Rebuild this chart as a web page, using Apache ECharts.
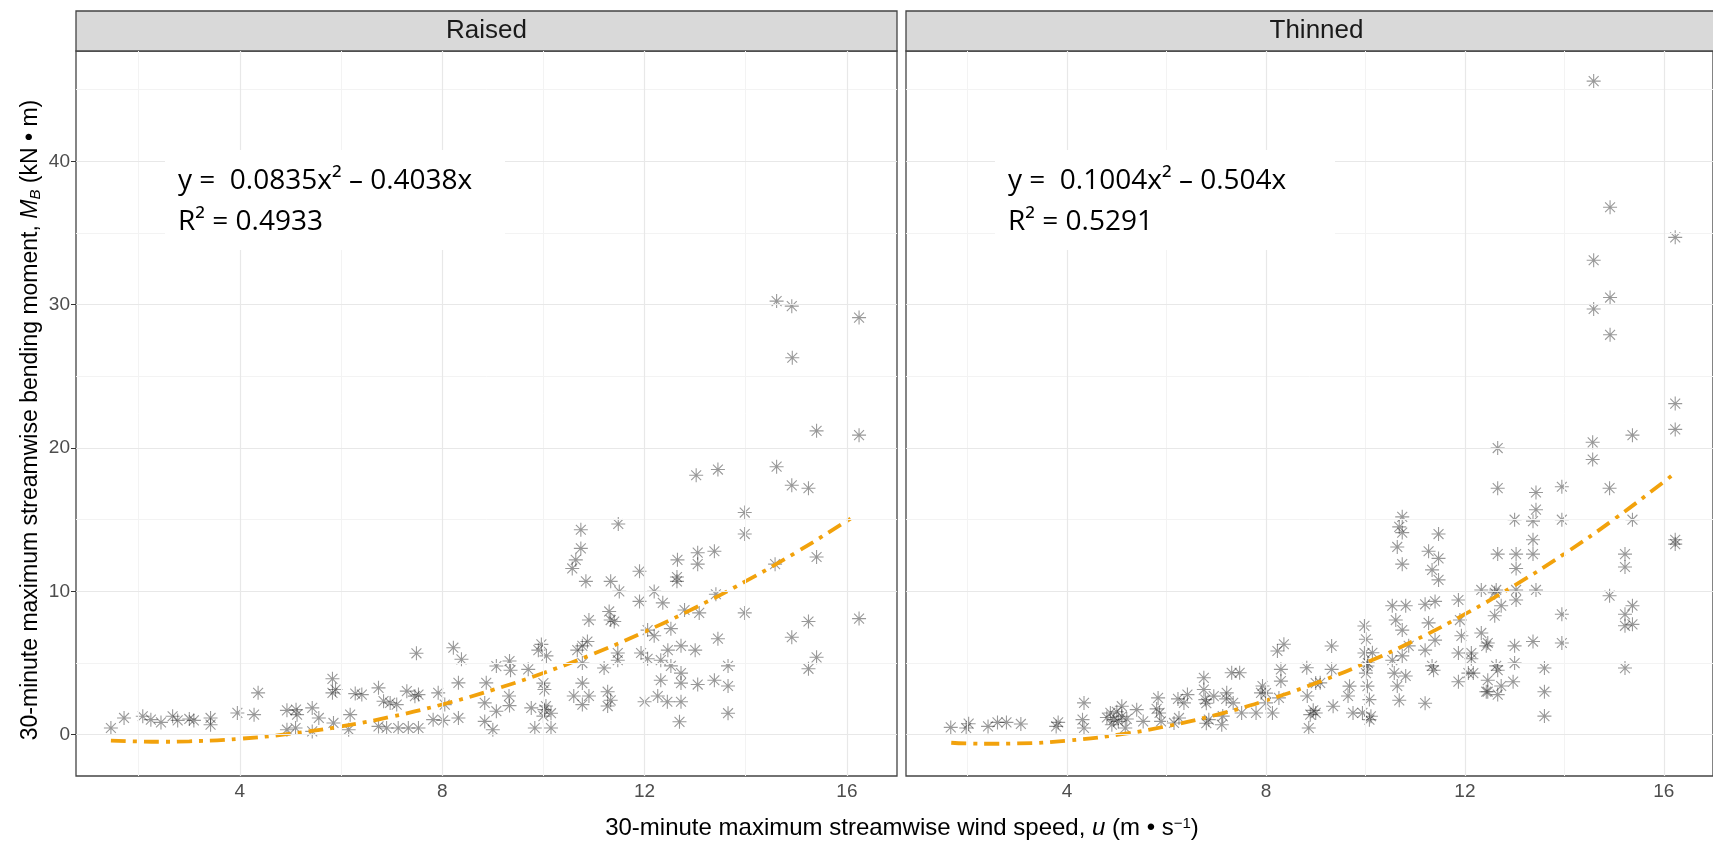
<!DOCTYPE html>
<html>
<head>
<meta charset="utf-8">
<title>Bending moment vs wind speed</title>
<script src="https://cdn.jsdelivr.net/npm/echarts@6/dist/echarts.min.js"></script>
<style>
  html, body { margin: 0; padding: 0; background: #fff; }
  #chart { width: 1713px; height: 841px; }
</style>
</head>
<body>
<div id="chart"></div>
<script>
// points: [wind speed u, bending moment MB]
const raisedPoints = [
  [1.45,0.47],[1.71,1.17],[2.08,1.29],[2.24,1.05],[2.44,0.86],[2.67,1.29],[2.77,1.0],[3.0,1.1],
  [3.09,1.0],[3.42,1.17],[3.42,0.7],[3.95,1.52],[4.28,1.4],[4.36,2.92],[4.93,1.7],[5.11,1.75],
  [5.13,1.4],[5.43,1.87],[5.56,1.17],[4.93,0.35],[5.1,0.47],[5.43,0.23],[5.83,3.9],[5.83,2.92],
  [5.89,3.15],[5.85,0.82],[6.18,1.4],[6.15,0.35],[6.28,2.87],[6.41,2.8],[6.74,3.27],[6.84,2.34],
  [6.74,0.58],[6.9,0.47],[6.97,2.22],[7.1,2.1],[7.13,0.47],[7.3,3.04],[7.46,2.69],[7.53,2.8],
  [7.49,5.68],[7.33,0.47],[7.53,0.47],[7.92,2.92],[7.82,1.05],[8.02,1.0],[8.22,6.07],[8.38,5.26],
  [8.32,3.62],[8.32,1.17],[8.05,2.1],[8.87,3.62],[8.84,2.22],[9.07,4.79],[9.33,5.14],[9.33,2.03],
  [9.07,1.64],[9.0,0.35],[8.84,0.93],[9.7,4.56],[9.96,6.3],[10.06,5.5],[10.02,3.15],[9.76,1.87],
  [10.02,1.75],[9.83,0.47],[10.15,0.47],[13.02,18.1],[13.45,18.5],[10.74,14.3],[11.48,14.7],[10.74,13.0],
  [10.64,12.2],[10.57,11.6],[10.84,10.7],[11.33,10.7],[11.5,10.0],[11.9,11.4],[11.9,9.3],[12.19,10.0],
  [12.36,9.2],[12.65,12.2],[12.64,11.0],[12.64,10.7],[13.05,12.7],[13.05,11.9],[13.38,12.8],[13.41,9.8],
  [13.08,8.5],[12.79,8.7],[10.9,8.0],[11.3,8.6],[11.33,8.0],[11.4,7.9],[12.06,7.3],[12.19,6.9],
  [12.52,7.4],[13.45,6.7],[12.72,6.2],[13.0,5.9],[12.46,5.9],[11.93,5.7],[12.06,5.3],[12.32,5.2],
  [12.52,4.8],[12.72,4.3],[12.32,3.8],[12.72,3.6],[13.05,3.5],[13.38,3.8],[12.0,2.3],[12.26,2.7],
  [12.45,2.3],[12.72,2.3],[12.69,0.9],[11.2,4.65],[11.47,5.2],[11.47,5.7],[10.77,6.2],[10.67,5.9],
  [10.77,5.0],[10.87,6.5],[10.77,3.6],[10.9,2.7],[10.6,2.7],[10.77,2.1],[11.27,3.0],[11.33,2.4],
  [11.27,2.0],[9.9,5.9],[9.35,4.5],[10.0,3.6],[9.32,2.7],[10.05,2.0],[10.15,1.5],[10.0,1.3],
  [14.61,30.25],[14.91,29.9],[16.24,29.1],[14.92,26.3],[15.4,21.2],[16.24,20.9],[14.61,18.7],[14.91,17.4],
  [15.24,17.2],[13.98,15.5],[13.98,14.0],[15.4,12.4],[14.58,11.9],[13.98,8.5],[15.24,7.9],[14.91,6.8],
  [16.24,8.1],[15.4,5.4],[15.24,4.6],[13.65,4.8],[13.65,3.4],[13.65,1.5]
];

const thinnedPoints = [
  [1.66,0.51],[1.97,0.47],[2.02,0.77],[2.41,0.58],[2.6,0.86],[2.78,0.86],[3.07,0.75],[3.78,0.58],
  [3.82,0.86],[4.34,2.22],[4.31,1.05],[4.34,0.47],[4.87,1.52],[4.94,1.05],[4.9,0.7],[5.1,1.99],
  [5.1,1.29],[5.17,0.47],[5.03,0.93],[5.4,1.75],[5.53,0.93],[5.83,2.57],[5.86,1.52],[5.89,0.93],
  [6.15,0.82],[6.25,1.17],[6.42,2.8],[6.35,2.22],[6.75,3.97],[6.75,3.15],[6.78,2.45],[6.85,1.05],
  [6.95,2.69],[7.11,0.7],[7.21,2.92],[7.31,4.32],[7.47,4.32],[7.34,2.22],[7.51,1.52],[7.8,1.52],
  [7.9,2.92],[8.0,2.22],[8.13,1.52],[8.23,5.84],[8.36,6.31],[8.3,4.56],[8.3,3.74],[8.26,2.57],
  [8.82,4.67],[8.89,1.4],[8.86,0.47],[9.0,1.52],[9.09,3.62],[9.32,6.19],[9.32,4.56],[9.35,1.99],
  [9.68,3.39],[9.75,1.52],[9.98,7.59],[10.01,6.66],[10.04,4.79],[10.04,3.39],[10.08,2.45],[10.11,1.29],
  [9.94,1.52],[10.14,5.72],[5.8,1.8],[6.23,2.5],[6.8,2.2],[7.13,1.3],[6.8,0.8],[7.2,2.5],
  [8.0,2.9],[7.93,3.4],[8.83,2.7],[4.8,1.2],[5.0,1.6],[5.2,1.1],[9.0,3.6],[9.98,5.7],
  [10.05,5.0],[10.01,4.3],[10.08,1.05],[9.65,2.7],[8.95,1.7],[12.66,20.0],[12.66,17.2],[12.66,12.6],
  [10.74,15.2],[10.68,14.5],[10.74,14.1],[10.64,13.1],[10.74,11.9],[11.47,14.0],[11.27,12.8],[11.47,12.3],
  [11.34,11.5],[11.47,10.8],[10.54,9.0],[10.81,9.0],[10.61,8.0],[10.74,7.3],[10.87,6.2],[10.54,5.2],
  [10.74,5.5],[10.58,4.3],[10.81,4.1],[10.64,3.4],[10.68,2.4],[11.2,2.2],[11.2,9.1],[11.4,9.3],
  [11.27,7.8],[11.4,6.6],[11.2,5.9],[11.34,4.8],[11.37,4.5],[11.87,9.4],[11.9,8.0],[12.33,10.1],
  [11.93,6.9],[11.87,5.7],[12.13,5.7],[12.33,7.1],[12.46,6.4],[12.6,8.3],[12.73,9.0],[12.07,4.3],
  [11.87,3.7],[12.46,3.8],[12.66,4.5],[12.46,3.0],[12.66,2.8],[12.73,3.4],[12.6,9.9],[16.23,23.1],
  [16.23,21.3],[15.37,20.9],[14.57,20.4],[14.57,19.2],[13.43,16.9],[13.95,17.3],[14.91,17.2],[13.43,15.7],
  [13.0,15.0],[13.37,14.9],[13.95,15.0],[15.37,15.0],[13.37,13.6],[16.23,13.6],[16.23,13.3],[13.03,12.6],
  [13.37,12.6],[13.03,11.6],[15.22,12.6],[15.22,11.7],[12.63,10.1],[13.03,10.1],[13.43,10.1],[13.03,9.4],
  [14.91,9.7],[13.95,8.4],[15.37,9.0],[15.22,8.4],[15.22,7.6],[15.37,7.7],[13.37,6.5],[13.95,6.4],
  [13.0,6.2],[13.0,5.0],[13.6,4.65],[13.6,3.0],[13.6,1.3],[15.22,4.65],[12.43,6.2],[12.63,4.8],
  [12.43,3.0],[12.17,4.3],[12.13,5.3],[12.97,3.7],[14.59,45.6],[14.92,36.8],[14.59,33.1],[14.92,30.5],
  [14.59,29.7],[14.92,27.9],[16.23,34.7]
];

// fitted curves, points
const raisedFitX = [1.45, 2, 2.5, 3, 4, 5, 6, 7, 8, 9, 10, 11, 12, 13, 14, 15, 16, 16.13];
const raisedFitY = [-0.41, -0.47, -0.49, -0.46, -0.28, 0.07, 0.58, 1.26, 2.11, 3.13, 4.31, 5.66, 7.18, 8.86, 10.71, 12.73, 14.92, 15.2];
const thinnedFitX = [1.67, 2, 2.5, 3, 4, 5, 6, 7, 8, 9, 10, 11, 12, 13, 14, 15, 16, 16.2];
const thinnedFitY = [-0.56, -0.61, -0.63, -0.61, -0.41, -0.01, 0.59, 1.39, 2.39, 3.60, 5.00, 6.60, 8.41, 10.42, 12.62, 15.03, 17.64, 18.19];

const panelNames = ['Raised', 'Thinned'];
const fitLabels = [
  'y =  0.0835x\u00b2 \u2013 0.4038x\nR\u00b2 = 0.4933',
  'y =  0.1004x\u00b2 \u2013 0.504x\nR\u00b2 = 0.5291'
];
const xMajor = [4, 8, 12, 16];
const xMinor = [2, 6, 10, 14];
const yMajor = [0, 10, 20, 30, 40];
const yMinor = [5, 15, 25, 35, 45];

const myChart = echarts.init(document.getElementById('chart'));

const panelLeft = [76, 906];
const panelTop = 51;
const panelW = 821;
const panelH = 725;
const star = 'path://M5,0L5,10M0,5L10,5M1.46,1.46L8.54,8.54M1.46,8.54L8.54,1.46';

const grids = [], xAxes = [], yAxes = [], series = [], graphics = [];
const points = [raisedPoints, thinnedPoints];
const fits = [
  raisedFitX.map((x, i) => [x, raisedFitY[i]]),
  thinnedFitX.map((x, i) => [x, thinnedFitY[i]])
];

for (let i = 0; i < 2; i++) {
  grids.push({
    left: panelLeft[i], top: panelTop, width: panelW, height: panelH,
    show: true, backgroundColor: '#fff', borderColor: '#444', borderWidth: 1.3
  });
  xAxes.push({
    gridIndex: i, type: 'value', min: 0.76, max: 16.99,
    axisLine: { show: false },
    axisTick: { show: true, customValues: xMajor, length: 5, lineStyle: { color: '#333' } },
    axisLabel: { show: true, customValues: xMajor, color: '#4d4d4d', fontSize: 19, margin: 6, fontFamily: 'Liberation Sans' },
    splitLine: { show: false }
  });
  yAxes.push({
    gridIndex: i, type: 'value', min: -2.88, max: 47.7,
    axisLine: { show: false },
    axisTick: { show: i === 0, customValues: yMajor, length: 5, lineStyle: { color: '#333' } },
    axisLabel: { show: i === 0, customValues: yMajor, color: '#4d4d4d', fontSize: 19, margin: 6, fontFamily: 'Liberation Sans' },
    splitLine: { show: false }
  });

  // background grid lines
  const minorStyle = { color: '#f3f3f3', width: 1, type: 'solid' };
  const majorStyle = { color: '#e8e8e8', width: 1.2, type: 'solid' };
  series.push({
    type: 'line', xAxisIndex: i, yAxisIndex: i, data: [], z: 1, silent: true,
    markLine: {
      silent: true, symbol: ['none', 'none'], label: { show: false }, animation: false,
      data: [].concat(
        xMinor.map(v => ({ xAxis: v, lineStyle: minorStyle })),
        yMinor.map(v => ({ yAxis: v, lineStyle: minorStyle })),
        xMajor.map(v => ({ xAxis: v, lineStyle: majorStyle })),
        yMajor.map(v => ({ yAxis: v, lineStyle: majorStyle }))
      )
    }
  });

  series.push({
    type: 'scatter', xAxisIndex: i, yAxisIndex: i, z: 2,
    data: points[i],
    symbol: star, symbolSize: 14,
    itemStyle: { color: 'transparent', borderColor: 'rgba(0,0,0,0.5)', borderWidth: 1.1 },
    animation: false
  });

  series.push({
    type: 'line', xAxisIndex: i, yAxisIndex: i, z: 4,
    data: fits[i], showSymbol: false, smooth: true,
    lineStyle: { color: '#f2a20c', width: 3.8, type: [15, 7, 4, 7] },
    animation: false
  });

  // facet strip
  graphics.push({
    type: 'rect', z: 5,
    shape: { x: panelLeft[i], y: 11, width: panelW, height: panelTop - 11 },
    style: { fill: '#d9d9d9', stroke: '#444', lineWidth: 1.3 }
  });
  graphics.push({
    type: 'text', z: 6,
    x: panelLeft[i] + panelW / 2, y: 31,
    style: { text: panelNames[i], fill: '#1a1a1a', fontSize: 26, fontFamily: 'Liberation Sans', align: 'center', verticalAlign: 'middle' }
  });

  // equation box
  graphics.push({
    type: 'rect', z: 8,
    shape: { x: panelLeft[i] + 89, y: 150, width: 340, height: 100 },
    style: { fill: '#fff' }
  });
  graphics.push({
    type: 'text', z: 9,
    x: panelLeft[i] + 102, y: 161,
    style: { text: fitLabels[i], fill: '#000', fontSize: 28, fontFamily: 'Open Sans', lineHeight: 41, align: 'left', verticalAlign: 'top' }
  });
}

// axis titles
graphics.push({
  type: 'text', z: 6,
  x: 902, y: 828,
  style: {
    text: '30-minute maximum streamwise wind speed, {i|u} (m \u2022 s{sup|\u22121})',
    fill: '#000', fontSize: 24, fontFamily: 'Liberation Sans', align: 'center', verticalAlign: 'middle',
    rich: {
      i: { fontStyle: 'italic', fontSize: 24, fontFamily: 'Liberation Sans', fill: '#000' },
      sup: { fontSize: 15, fontFamily: 'Liberation Sans', fill: '#000', verticalAlign: 'top', padding: [0, 0, 9, 0] }
    }
  }
});
graphics.push({
  type: 'text', z: 6,
  x: 31, y: 420, rotation: Math.PI / 2,
  style: {
    text: '30-minute maximum streamwise bending moment, {i|M}{sub|B} (kN \u2022 m)',
    fill: '#000', fontSize: 23, fontFamily: 'Liberation Sans', align: 'center', verticalAlign: 'middle',
    rich: {
      i: { fontStyle: 'italic', fontSize: 23, fontFamily: 'Liberation Sans', fill: '#000' },
      sub: { fontStyle: 'italic', fontSize: 15, fontFamily: 'Liberation Sans', fill: '#000', verticalAlign: 'bottom', padding: [9, 0, 0, 0] }
    }
  }
});

myChart.setOption({
  animation: false,
  backgroundColor: '#fff',
  grid: grids,
  xAxis: xAxes,
  yAxis: yAxes,
  series: series,
  graphic: graphics
});

window.addEventListener('resize', function () {
  myChart.resize();
});
</script>
</body>
</html>
